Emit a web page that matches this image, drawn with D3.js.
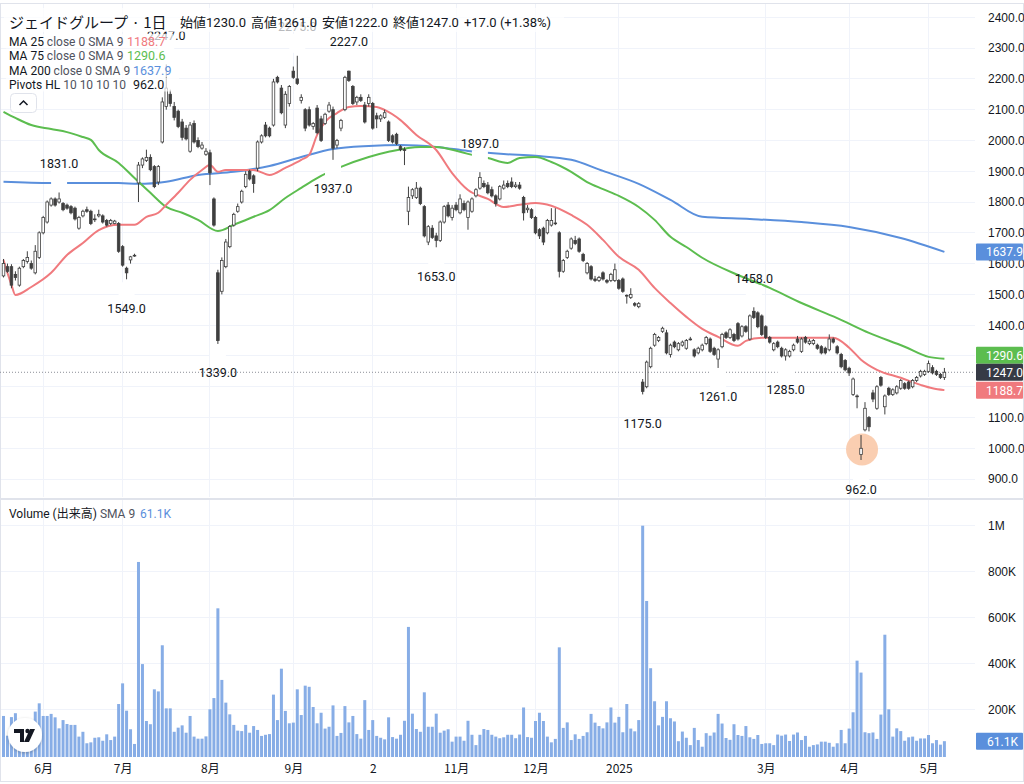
<!DOCTYPE html>
<html><head><meta charset="utf-8">
<script src="https://cdn.jsdelivr.net/npm/d3@7"></script>
<style>
html,body{margin:0;padding:0;background:#fff;}
svg{display:block;font-family:Roboto,"Noto Sans CJK JP",sans-serif;}
</style></head><body>
<svg id="c" width="1024" height="784"></svg>
<script>
// ---------- DATA ----------
// daily bars [open, high, low, close], bar index 0 = 2024-05-20 ... 237 = 2025-05-09
const ohlc = [
[1560,1615,1555,1600],[1590,1600,1570,1575],[1590,1598,1520,1530],[1565,1575,1545,1555],[1530,1590,1525,1585],
[1590,1615,1585,1610],[1607,1640,1600,1620],[1600,1610,1580,1585],[1570,1660,1565,1640],[1620,1705,1615,1700],
[1700,1755,1695,1750],[1735,1805,1730,1800],[1790,1815,1785,1810],[1810,1815,1785,1790],[1800,1831,1795,1810],
[1795,1800,1770,1775],[1790,1795,1775,1780],[1785,1790,1760,1765],[1780,1785,1740,1745],[1715,1755,1710,1750],
[1755,1775,1750,1770],[1775,1785,1765,1770],[1770,1775,1725,1730],[1745,1760,1735,1745],[1755,1775,1750,1760],
[1755,1760,1730,1735],[1740,1745,1720,1725],[1730,1745,1725,1740],[1730,1742,1728,1738],[1730,1735,1635,1640],
[1655,1660,1590,1595],[1585,1590,1549,1570],[1612,1625,1600,1622],[1627,1632,1622,1627],[1862,1930,1800,1920],
[1920,1945,1910,1940],[1935,1970,1930,1945],[1945,1955,1900,1905],[1915,1920,1845,1850],[1865,1920,1855,1915],
[1995,2140,1990,2125],[2110,2247,2100,2170],[2150,2165,2110,2120],[2110,2125,2065,2075],[2095,2100,2040,2045],
[2060,2070,2000,2010],[2040,2050,2000,2005],[1965,2060,1960,2050],[2055,2065,1990,1995],[2000,2010,1975,1980],
[1975,1995,1970,1985],[1955,1975,1950,1965],[1960,1970,1855,1895],[1810,1815,1720,1725],[1570,1580,1339,1350],
[1510,1620,1500,1610],[1590,1680,1585,1670],[1655,1725,1650,1720],[1725,1765,1720,1760],[1770,1795,1765,1785],
[1800,1840,1795,1835],[1850,1900,1845,1890],[1900,1905,1870,1875],[1885,1890,1830,1860],[1910,2000,1900,1995],
[1995,2020,1990,2015],[2050,2060,2010,2015],[2040,2045,2010,2015],[2050,2200,2045,2190],[2205,2210,2185,2190],
[2170,2180,2085,2090],[2050,2160,2040,2150],[2120,2180,2110,2175],[2225,2240,2200,2205],[2200,2275,2180,2185],
[2130,2150,2120,2140],[2100,2105,2030,2040],[2100,2110,2045,2050],[2045,2060,2035,2055],[2105,2115,2020,2025],
[2070,2080,1995,2000],[2055,2090,2050,2085],[2095,2125,2090,2115],[2100,2110,1937,1975],[1985,2005,1975,2000],
[2040,2070,2030,2065],[2100,2210,2095,2205],[2225,2227,2190,2195],[2175,2180,2115,2120],[2125,2145,2115,2140],
[2140,2150,2125,2130],[2115,2125,2055,2060],[2120,2150,2110,2140],[2120,2125,2035,2040],[2080,2090,2040,2070],
[2070,2085,2060,2080],[2075,2100,2070,2090],[2060,2065,1995,2000],[2015,2020,1990,1995],[2020,2025,1985,1990],
[1980,1985,1965,1970],[1970,1978,1920,1968],[1770,1850,1725,1815],[1820,1845,1810,1840],[1815,1865,1810,1845],
[1845,1850,1790,1795],[1785,1790,1685,1690],[1670,1725,1660,1720],[1715,1725,1680,1685],[1690,1700,1653,1675],
[1675,1740,1670,1735],[1735,1790,1730,1785],[1790,1800,1750,1755],[1750,1790,1740,1780],[1790,1800,1770,1775],
[1765,1825,1760,1810],[1795,1805,1770,1775],[1750,1805,1710,1800],[1770,1815,1765,1810],[1820,1845,1815,1840],
[1845,1897,1840,1880],[1860,1870,1845,1850],[1855,1865,1825,1830],[1840,1850,1815,1820],[1820,1825,1785,1795],
[1810,1855,1805,1850],[1845,1870,1840,1855],[1860,1870,1845,1850],[1865,1880,1845,1850],[1850,1865,1845,1855],
[1855,1865,1840,1845],[1815,1820,1740,1765],[1775,1790,1765,1780],[1775,1780,1745,1750],[1750,1755,1695,1700],
[1710,1715,1680,1690],[1715,1720,1660,1670],[1700,1745,1695,1740],[1725,1780,1720,1740],[1730,1780,1725,1732],
[1700,1705,1555,1575],[1575,1615,1570,1610],[1620,1645,1615,1640],[1650,1685,1645,1680],[1675,1690,1660,1665],
[1680,1685,1635,1640],[1630,1635,1605,1610],[1570,1605,1565,1600],[1590,1595,1545,1550],[1550,1560,1540,1545],
[1545,1560,1540,1555],[1570,1575,1545,1550],[1545,1550,1535,1540],[1545,1570,1540,1565],[1545,1600,1540,1580],
[1545,1550,1515,1520],[1550,1555,1505,1510],[1497,1500,1470,1495],[1490,1520,1485,1500],[1470,1475,1460,1465],
[1460,1475,1455,1470],[1215,1225,1175,1185],[1200,1285,1195,1280],[1265,1330,1260,1325],[1335,1375,1330,1370],
[1350,1365,1345,1360],[1380,1395,1375,1390],[1375,1385,1305,1310],[1305,1340,1295,1335],[1345,1350,1325,1330],
[1320,1345,1315,1340],[1335,1350,1330,1345],[1325,1355,1320,1350],[1355,1362,1350,1355],[1320,1325,1295,1300],
[1310,1330,1305,1325],[1320,1340,1315,1335],[1340,1365,1335,1360],[1355,1360,1310,1315],[1325,1330,1300,1305],
[1290,1325,1261,1320],[1330,1375,1325,1370],[1375,1380,1355,1360],[1360,1390,1355,1385],[1370,1375,1345,1350],
[1405,1410,1350,1355],[1365,1400,1360,1395],[1395,1400,1375,1380],[1355,1435,1350,1430],[1445,1458,1420,1425],
[1440,1445,1390,1395],[1430,1435,1365,1370],[1395,1400,1355,1360],[1360,1365,1340,1345],[1320,1345,1315,1340],
[1345,1350,1325,1330],[1325,1330,1295,1300],[1300,1325,1285,1320],[1300,1320,1295,1315],[1320,1340,1315,1335],
[1355,1365,1340,1345],[1315,1360,1310,1355],[1360,1365,1340,1345],[1340,1355,1335,1348],[1340,1355,1335,1350],
[1335,1340,1320,1325],[1330,1335,1305,1310],[1325,1330,1305,1310],[1320,1370,1315,1355],[1355,1360,1340,1345],
[1330,1335,1305,1310],[1305,1310,1260,1265],[1285,1290,1250,1255],[1260,1265,1235,1245],[1175,1230,1170,1225],
[1170,1175,1130,1168],[980,1043,962,1000],[1060,1150,1055,1130],[1100,1105,1055,1070],[1180,1190,1150,1160],
[1130,1205,1125,1200],[1230,1235,1200,1205],[1135,1175,1110,1170],[1195,1200,1170,1175],[1175,1195,1170,1190],
[1180,1205,1175,1200],[1195,1225,1190,1220],[1210,1215,1190,1195],[1215,1220,1190,1195],[1200,1225,1195,1220],
[1220,1235,1215,1230],[1235,1255,1230,1250],[1240,1255,1235,1250],[1250,1285,1245,1275],[1262,1270,1240,1245],
[1250,1255,1235,1240],[1240,1245,1225,1230],[1230,1261,1222,1247]
];
// volume in thousands of shares
const volume = [
171,85,166,183,110,124,100,95,190,226,171,171,180,165,117,153,136,132,132,81,102,52,56,76,78,63,91,66,81,223,313,194,113,49,
842,397,149,135,287,278,479,204,204,102,120,130,98,171,81,72,72,82,200,249,640,328,229,178,132,107,105,132,98,127,110,84,89,92,
264,153,377,193,139,142,287,175,303,298,210,139,185,116,124,217,84,97,214,143,171,92,72,240,110,153,84,76,69,165,79,72,89,150,
559,181,114,102,274,124,124,181,98,107,113,59,81,81,63,150,89,44,89,114,110,89,81,74,78,89,89,74,
90,208,79,76,149,185,149,81,56,71,470,119,143,66,91,71,84,100,180,142,127,117,143,208,142,167,100,223,116,104,153,
1000,672,379,235,130,167,235,161,147,61,103,76,44,119,66,37,96,85,99,180,138,75,67,135,88,84,127,78,71,88,49,52,52,44,90,85,90,62,90,99,
66,84,37,44,47,59,59,54,37,52,110,52,116,187,412,360,100,96,99,71,177,525,200,81,117,105,63,78,81,63,73,73,88,52,66,46,61.1
];
const ma25Idx = [0,2,3,7,12,16,20,24,29,33,36,39,41,44,47,50,52,54,56,60,63,67,71,75,77,79,81,84,87,90,94,96,100,104,109,113,117,122,126,130,134,138,143,147,151,155,160,164,168,172,176,180,185,187,191,197,201,209,213,216,220,226,231,234,237];
const ma25Val = [1612,1531,1498,1524,1570,1628,1667,1709,1726,1726,1752,1765,1791,1830,1872,1904,1920,1898,1904,1904,1904,1888,1911,1937,1953,2018,2060,2089,2109,2112,2109,2099,2066,2018,1969,1894,1839,1810,1784,1791,1797,1788,1758,1726,1677,1622,1580,1521,1472,1427,1388,1362,1333,1349,1359,1359,1359,1359,1327,1288,1255,1229,1206,1195,1189];
const ma75Idx = [0,3,7,12,16,20,22,24,29,33,37,41,45,49,54,58,63,67,71,75,79,85,92,97,105,109,115,119,122,127,130,134,138,143,147,151,155,160,164,168,172,176,185,193,201,210,218,227,233,237];
const ma75Val = [2093,2073,2050,2037,2027,2011,2002,1969,1927,1878,1830,1784,1765,1742,1706,1726,1752,1774,1813,1846,1878,1914,1946,1963,1979,1979,1963,1950,1943,1927,1943,1946,1930,1898,1865,1842,1820,1784,1742,1687,1654,1619,1563,1521,1472,1423,1375,1330,1297,1291];
const ma200Idx = [0,12,20,29,34,41,49,58,67,75,83,92,100,109,117,126,134,143,151,160,168,176,188,201,213,226,237];
const ma200Val = [1866,1862,1862,1862,1859,1866,1888,1898,1917,1946,1972,1982,1985,1979,1966,1956,1950,1937,1901,1859,1807,1752,1745,1735,1719,1683,1638];
// pivots HL
const pivotIdx   = [14,31,41,54,74,83,87,109,120,161,180,189,197,216];
const pivotPrice = [1831,1549,2247,1339,2275,1937,2227,1653,1897,1175,1261,1458,1285,962];
const pivotType  = ["H","L","H","L","H","L","H","L","H","L","L","H","L","L"];
// axes
const monthIdx    = [10,30,52,73,93,114,134,155,192,213,233];
const monthLabels = ["6月","7月","8月","9月","2","11月","12月","2025","3月","4月","5月"];
const priceTicks  = [900,1000,1100,1200,1300,1400,1500,1600,1700,1800,1900,2000,2100,2200,2300,2400];
const volTicks    = [200,400,600,800,1000];
const volTickLabels = ["200K","400K","600K","800K","1M"];
// last values
const lastMA25 = 1188.7, lastMA75 = 1290.6, lastMA200 = 1637.9, lastClose = 1247.0, lastVol = 61.1, lastPivot = 962.0;
const highlightIdx = 216;

// ---------- STYLE ----------
const C_TEXT = "#131722", C_GRID = "#f0f3fa", C_CANDLE = "#3f3f3f";
const C_RED = "#f07a7e", C_GREEN = "#5cbd4f", C_BLUE = "#5a8fdc", C_VOL = "#87ade6", C_DARK = "#363a45";
const PLOT_R = 975;
const JP = "'Noto Sans CJK JP',sans-serif";

const svg = d3.select("#c");
const x  = d3.scaleLinear().domain([0, 237]).range([3.5, 944.4]);
const y  = d3.scaleLinear().domain([900, 2400]).range([479.1, 17.3]);
const yv = d3.scaleLinear().domain([0, 1000]).range([755.2, 525.7]);

svg.append("rect").attr("width",1024).attr("height",784).attr("fill","#fff");
const defs = svg.append("defs");
defs.append("clipPath").attr("id","pclip").append("rect").attr("x",0).attr("y",4).attr("width",PLOT_R).attr("height",493);
defs.append("clipPath").attr("id","vclip").append("rect").attr("x",0).attr("y",500).attr("width",PLOT_R).attr("height",257);
const sh = defs.append("filter").attr("id","sh").attr("x","-50%").attr("y","-50%").attr("width","200%").attr("height","200%");
sh.append("feDropShadow").attr("dx",0).attr("dy",1).attr("stdDeviation",1.5).attr("flood-color","#000").attr("flood-opacity",0.25);

// grid
const g = svg.append("g").attr("stroke",C_GRID).attr("stroke-width",1).attr("shape-rendering","crispEdges");
g.selectAll(".hp").data(priceTicks).join("line").attr("class","hp").attr("x1",0).attr("x2",PLOT_R).attr("y1",d=>y(d)).attr("y2",d=>y(d));
g.selectAll(".hv").data(volTicks).join("line").attr("class","hv").attr("x1",0).attr("x2",PLOT_R).attr("y1",d=>yv(d)).attr("y2",d=>yv(d));
g.selectAll(".vp").data(monthIdx).join("line").attr("class","vp").attr("x1",d=>x(d)).attr("x2",d=>x(d)).attr("y1",4).attr("y2",497);
g.selectAll(".vv").data(monthIdx).join("line").attr("class","vv").attr("x1",d=>x(d)).attr("x2",d=>x(d)).attr("y1",500).attr("y2",757);

// frame & separators
const fr = svg.append("g").attr("stroke","#e0e3eb").attr("fill","none").attr("shape-rendering","crispEdges");
fr.append("rect").attr("x",0.5).attr("y",3.5).attr("width",1023).attr("height",778);
fr.append("line").attr("x1",0).attr("x2",1024).attr("y1",498.5).attr("y2",498.5).attr("stroke-width",2);

// volume bars
svg.append("g").attr("clip-path","url(#vclip)").selectAll("rect").data(volume).join("rect")
  .attr("x",(d,i)=>x(i)-1.5).attr("width",3).attr("y",d=>yv(d)).attr("height",d=>yv(0)-yv(d)+2).attr("fill",C_VOL);

// price pane
const pg = svg.append("g").attr("clip-path","url(#pclip)");
pg.append("line").attr("x1",0).attr("x2",PLOT_R).attr("y1",y(lastClose)).attr("y2",y(lastClose))
  .attr("stroke","#8a8d96").attr("stroke-width",1).attr("stroke-dasharray","1,2");
const line = d3.line().curve(d3.curveMonotoneX).x(d=>x(d[0])).y(d=>y(d[1]));
[[ma200Idx,ma200Val,C_BLUE],[ma75Idx,ma75Val,C_GREEN],[ma25Idx,ma25Val,C_RED]].forEach(([ix,vv,col])=>{
  pg.append("path").attr("d",line(ix.map((d,k)=>[d,vv[k]]))).attr("fill","none").attr("stroke",col).attr("stroke-width",2);
});
const piv = pivotIdx.map((d,k)=>({i:d,p:pivotPrice[k],t:pivotType[k]}));
pg.selectAll(".pb").data(piv).join("rect").attr("class","pb")
  .attr("x",d=>x(d.i)-8).attr("width",16)
  .attr("y",d=>d.t==="H"? y(d.p)-22 : y(d.p)+3).attr("height",19).attr("fill","#fff");
const hc = ohlc[highlightIdx];
pg.append("circle").attr("cx",x(highlightIdx)+1).attr("cy",y((hc[0]+hc[3])/2)-2).attr("r",16).attr("fill","#f9c6a3").attr("opacity",0.85);
const candles = ohlc.map((d,i)=>({i,o:d[0],h:d[1],l:d[2],c:d[3]}));
pg.selectAll(".wk").data(candles).join("line").attr("class","wk")
  .attr("x1",d=>x(d.i)).attr("x2",d=>x(d.i)).attr("y1",d=>y(d.h)).attr("y2",d=>y(d.l))
  .attr("stroke",C_CANDLE).attr("stroke-width",1);
pg.selectAll(".bd").data(candles).join("rect").attr("class","bd")
  .attr("x",d=>x(d.i)-1.3).attr("width",2.6)
  .attr("y",d=>y(Math.max(d.o,d.c))).attr("height",d=>Math.max(0.8,y(Math.min(d.o,d.c))-y(Math.max(d.o,d.c))))
  .attr("fill",d=>d.c>=d.o?"#fff":C_CANDLE).attr("stroke",C_CANDLE).attr("stroke-width",0.8);
svg.append("g").selectAll("text").data(piv).join("text")
  .attr("x",d=>x(d.i)).attr("y",d=>(d.t==="H"? y(d.p)-29 : y(d.p)+29)+4.5)
  .attr("text-anchor","middle").attr("font-size",12.5).attr("fill",C_TEXT).text(d=>d.p.toFixed(1));

// header with translucent background
const hd = svg.append("g");
hd.append("rect").attr("x",4).attr("y",8).attr("width",560).attr("height",24).attr("fill","#fff").attr("opacity",0.7);
hd.append("text").attr("x",9).attr("y",28).attr("font-size",15).attr("fill",C_TEXT)
  .attr("font-family",JP).text("ジェイドグループ · 1日");
const ohlcT = hd.append("text").attr("x",180).attr("y",26.5).attr("font-size",13).attr("fill",C_TEXT).attr("font-family",JP);
const last = ohlc[ohlc.length-1], prev = ohlc[ohlc.length-2];
[["始値",last[0].toFixed(1)],["高値",last[1].toFixed(1)],["安値",last[2].toFixed(1)],["終値",last[3].toFixed(1)]].forEach(([k,v],j)=>{
  ohlcT.append("tspan").attr("dx",j?5:0).text(k);
  ohlcT.append("tspan").attr("font-family","Roboto,sans-serif").text(v);
});
const chg = last[3]-prev[3];
ohlcT.append("tspan").attr("dx",5).attr("font-family","Roboto,sans-serif")
  .text((chg>=0?"+":"")+chg.toFixed(1)+" ("+(chg>=0?"+":"")+(chg/prev[3]*100).toFixed(2)+"%)");

// legend
const legend = [
  ["MA 25"," close 0 SMA 9",lastMA25.toFixed(1),C_RED,127],
  ["MA 75"," close 0 SMA 9",lastMA75.toFixed(1),C_GREEN,127],
  ["MA 200"," close 0 SMA 9",lastMA200.toFixed(1),C_BLUE,133],
  ["Pivots HL"," 10 10 10 10",lastPivot.toFixed(1),C_TEXT,133]
];
const lg = svg.append("g").attr("font-size",12);
legend.forEach((r,k)=>{
  const cy = 41 + k*14.5;
  lg.append("rect").attr("x",6).attr("y",cy-7).attr("width",r[4]+40).attr("height",14).attr("fill","#fff").attr("opacity",0.7);
  const t = lg.append("text").attr("x",9).attr("y",cy+4.5).attr("fill",C_TEXT);
  t.append("tspan").text(r[0]);
  t.append("tspan").attr("fill","#50535e").text(r[1]);
  lg.append("text").attr("x",r[4]).attr("y",cy+4.5).attr("fill",r[3]).attr("font-size",12.5).text(r[2]);
});
svg.append("rect").attr("x",10.5).attr("y",93.5).attr("width",26).attr("height",19).attr("rx",4)
  .attr("fill","#fff").attr("stroke","#e0e3eb");
svg.append("path").attr("d","M19.5 105 L23.5 101 L27.5 105").attr("fill","none").attr("stroke",C_TEXT).attr("stroke-width",1.5);

// volume legend
const vt = svg.append("text").attr("x",9).attr("y",518).attr("font-size",12).attr("fill",C_TEXT);
vt.append("tspan").text("Volume (");
vt.append("tspan").attr("font-family",JP).text("出来高");
vt.append("tspan").text(")");
vt.append("tspan").attr("fill","#50535e").text(" SMA 9");
svg.append("text").attr("x",140).attr("y",518).attr("font-size",12).attr("fill",C_BLUE).text(lastVol.toFixed(1)+"K");

// price tags (stacked to avoid overlap)
const tags = [
  {v:lastMA200,c:C_BLUE},{v:lastMA75,c:C_GREEN},{v:lastClose,c:C_DARK},{v:lastMA25,c:C_RED}
].map(d=>({...d,yy:y(d.v)}));
for (let k=tags.length-2;k>=0;k--){ if (tags[k+1].yy - tags[k].yy < 17) tags[k].yy = tags[k+1].yy - 17; }

// right price axis (labels hidden under tags are dropped)
const visTicks = priceTicks.filter(p=>tags.every(t=>Math.abs(y(p)-t.yy)>9));
const pax = svg.append("g").attr("transform",`translate(${PLOT_R+5},0)`)
  .call(d3.axisRight(y).tickValues(visTicks).tickFormat(d=>d.toFixed(1)).tickSize(0).tickPadding(8));
pax.select(".domain").remove();
pax.selectAll("text").attr("font-size",12).attr("fill",C_TEXT);
const vax = svg.append("g").attr("transform",`translate(${PLOT_R+5},0)`)
  .call(d3.axisRight(yv).tickValues(volTicks).tickFormat((d,k)=>volTickLabels[k]).tickSize(0).tickPadding(8));
vax.select(".domain").remove();
vax.selectAll("text").attr("font-size",12).attr("fill",C_TEXT);

tags.forEach(t=>{
  svg.append("rect").attr("x",976).attr("y",t.yy-8.5).attr("width",47).attr("height",17).attr("rx",1).attr("fill",t.c);
  svg.append("text").attr("x",986).attr("y",t.yy+4.5).attr("font-size",12).attr("fill","#fff").text(t.v.toFixed(1));
});
svg.append("rect").attr("x",976).attr("y",yv(lastVol)-8.5).attr("width",47).attr("height",17).attr("rx",1).attr("fill",C_BLUE);
svg.append("text").attr("x",987).attr("y",yv(lastVol)+4.5).attr("font-size",12).attr("fill","#fff").text(lastVol.toFixed(1)+"K");

// time axis
const tax = svg.append("g").attr("transform","translate(0,760)")
  .call(d3.axisBottom(x).tickValues(monthIdx).tickFormat((d,k)=>monthLabels[k]).tickSize(0).tickPadding(4));
tax.select(".domain").remove();
tax.selectAll("text").attr("font-size",12).attr("fill",C_TEXT).attr("font-family",JP);

// logo
const lgo = svg.append("g").attr("transform","translate(25,735)");
lgo.append("circle").attr("r",17).attr("fill","#fff").attr("filter","url(#sh)");
lgo.append("path").attr("d","M-11 -6 H-1 V7 H-5 V-2 H-11 Z").attr("fill","#131722");
lgo.append("circle").attr("cx",2.5).attr("cy",-4).attr("r",2.2).attr("fill","#131722");
lgo.append("path").attr("d","M5 -6 H10 L4 7 H-1 Z").attr("fill","#131722");
</script>
</body></html>
